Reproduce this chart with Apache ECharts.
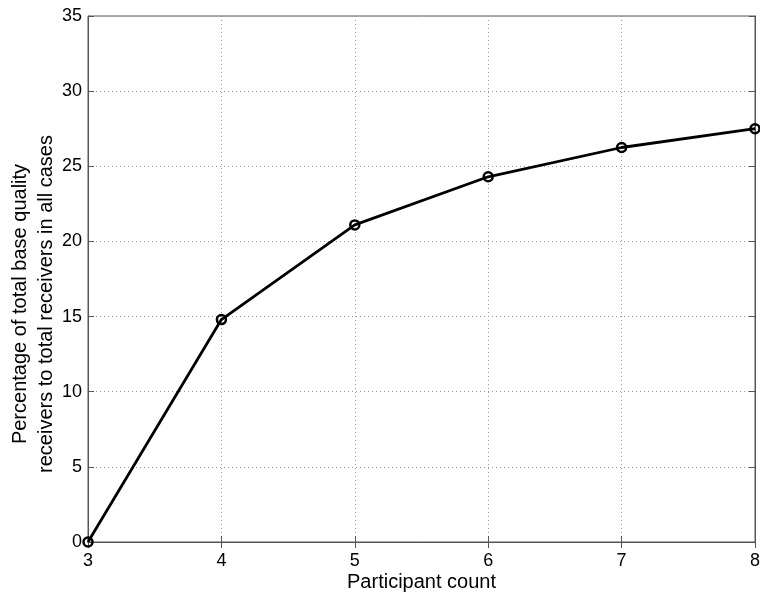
<!DOCTYPE html>
<html><head><meta charset="utf-8">
<script src="https://cdn.jsdelivr.net/npm/echarts@6/dist/echarts.min.js"></script>
<style>html,body{margin:0;padding:0;background:#fff}#c{width:760px;height:599px}</style>
</head><body><div id="c"></div>
<script>
const participants = [3, 4, 5, 6, 7, 8];
const percentage = [0, 14.8, 21.1, 24.3, 26.25, 27.5];
const xTicks = [3, 4, 5, 6, 7, 8];
const yTicks = [0, 5, 10, 15, 20, 25, 30, 35];

const chart = echarts.init(document.getElementById('c'));
const font = 'Liberation Sans, Arial, sans-serif';
const axisCol = '#555';
const common = {
  axisLine: {show: true, lineStyle: {color: axisCol, width: 1}},
  axisTick: {show: true, inside: true, length: 6, lineStyle: {color: axisCol}},
};
chart.setOption({
  animation: false,
  grid: {left: 88, right: 5, top: 16, bottom: 57, containLabel: false, outerBoundsMode: 'none',
         show: true, borderColor: axisCol, borderWidth: 1},
  xAxis: [{
    type: 'value', min: xTicks[0], max: xTicks[xTicks.length-1], interval: 1,
    name: 'Participant count', nameLocation: 'middle', nameGap: 30, nameMoveOverlap: false,
    nameTextStyle: {fontFamily: font, fontSize: 20, color: '#000'},
    axisLabel: {fontFamily: font, fontSize: 18, color: '#000', margin: 10},
    splitLine: {show: true, lineStyle: {color: '#999', type: [1, 3]}},
    ...common
  }, {
    type: 'value', position: 'top', min: xTicks[0], max: xTicks[xTicks.length-1], interval: 1,
    axisLabel: {show: false}, splitLine: {show: false}, ...common
  }],
  yAxis: [{
    type: 'value', min: yTicks[0], max: yTicks[yTicks.length-1], interval: 5,
    name: 'Percentage of total base quality\nreceivers to total receivers in all cases',
    nameLocation: 'middle', nameGap: 29, nameMoveOverlap: false,
    nameTextStyle: {fontFamily: font, fontSize: 20, color: '#000', lineHeight: 26, padding: [0, 50, 0, 0]},
    axisLabel: {fontFamily: font, fontSize: 18, color: '#000', margin: 6},
    splitLine: {show: true, lineStyle: {color: '#999', type: [1, 3]}},
    ...common
  }, {
    type: 'value', position: 'right', min: yTicks[0], max: yTicks[yTicks.length-1], interval: 5,
    axisLabel: {show: false}, splitLine: {show: false}, ...common
  }],
  series: [{
    type: 'line',
    data: participants.map((p, i) => [p, percentage[i]]),
    symbol: 'circle', symbolSize: 9,
    lineStyle: {color: '#000', width: 2.8},
    itemStyle: {color: 'rgba(0,0,0,0)', borderColor: '#000', borderWidth: 2.5},
    z: 5
  }]
});
</script></body></html>
